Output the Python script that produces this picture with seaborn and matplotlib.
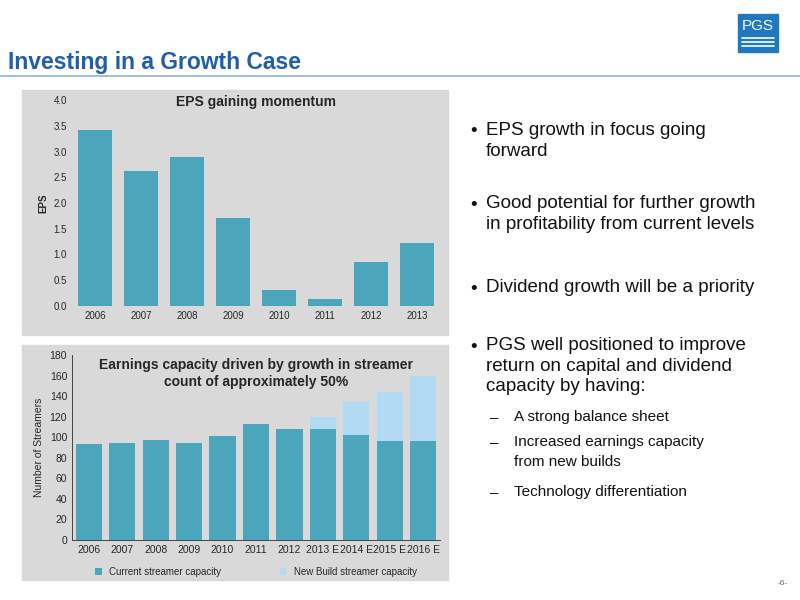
import matplotlib
matplotlib.use("Agg")
import matplotlib.pyplot as plt
import seaborn as sns
import pandas as pd
from matplotlib.patches import Rectangle

sns.set_theme(style="white")
plt.rcParams['font.family'] = ['Liberation Sans', 'DejaVu Sans']

eps_years = ["2006", "2007", "2008", "2009", "2010", "2011", "2012", "2013"]
eps_values = [3.42, 2.62, 2.89, 1.70, 0.32, 0.14, 0.86, 1.22]

str_years = ["2006", "2007", "2008", "2009", "2010", "2011", "2012", "2013 E", "2014 E", "2015 E", "2016 E"]
current_cap = [93, 94, 97, 94, 101, 113, 108, 108, 102, 96, 96]
new_build = [0, 0, 0, 0, 0, 0, 0, 12, 32, 48, 64]

bullets = [
    (0, "EPS growth in focus going\nforward"),
    (0, "Good potential for further growth\nin profitability from current levels"),
    (0, "Dividend growth will be a priority"),
    (0, "PGS well positioned to improve\nreturn on capital and dividend\ncapacity by having:"),
    (1, "A strong balance sheet"),
    (1, "Increased earnings capacity\nfrom new builds"),
    (1, "Technology differentiation"),
]
bullet_y = [132, 205, 289, 347, 418, 443, 493]

W, H = 800, 600
fig = plt.figure(figsize=(8, 6), dpi=100)
fig.patch.set_facecolor("white")

def ax_px(l, t, r, b):
    return fig.add_axes([l / W, 1 - b / H, (r - l) / W, (b - t) / H])

dark = "#4ba6bc"
light = "#b3daf3"
gray = "#d9d9d9"
blue = "#1f5fa8"

fig.text(8 / W, 1 - 62 / H, "Investing in a Growth Case", color=blue, fontsize=16.5,
         fontweight="bold", va="center")
fig.add_artist(plt.Line2D([0, 1], [1 - 76 / H] * 2, color="#8fb3d9", lw=1.2))

fig.add_artist(Rectangle((738 / W, 1 - 52 / H), 40 / W, 38 / H, color="#1f78c0"))
fig.text(758 / W, 1 - 26 / H, "PGS", color="white", fontsize=11, ha="center", va="center")
for i in range(3):
    fig.add_artist(plt.Line2D([742 / W, 774 / W], [1 - (38 + i * 4) / H] * 2, color="white", lw=1.2))

fig.add_artist(Rectangle((22 / W, 1 - 335 / H), 426 / W, 245 / H, color=gray, zorder=0))
fig.add_artist(Rectangle((22 / W, 1 - 580 / H), 426 / W, 235 / H, color=gray, zorder=0))

ax1 = ax_px(72, 100, 440, 306)
df1 = pd.DataFrame({"year": eps_years, "eps": eps_values})
sns.barplot(data=df1, x="year", y="eps", color=dark, saturation=1, width=0.72, ax=ax1, linewidth=0)
ax1.set_facecolor(gray)
ax1.set_ylim(0, 4.0)
ax1.set_yticks([i * 0.5 for i in range(9)])
ax1.set_yticklabels([f"{i*0.5:.1f}" for i in range(9)])
ax1.set_xlabel("")
ax1.set_ylabel("EPS", fontsize=7, fontweight="bold")
ax1.tick_params(labelsize=7, length=0)
for s in ["top", "right", "left", "bottom"]:
    ax1.spines[s].set_visible(False)
ax1.set_title("EPS gaining momentum", fontsize=10, fontweight="bold", y=0.93)

ax2 = ax_px(72, 355, 440, 540)
total = [c + n for c, n in zip(current_cap, new_build)]
df2 = pd.DataFrame({"year": str_years, "current": current_cap, "total": total})
sns.barplot(data=df2, x="year", y="total", color=light, saturation=1, width=0.78, ax=ax2,
            label="New Build streamer capacity", linewidth=0)
sns.barplot(data=df2, x="year", y="current", color=dark, saturation=1, width=0.78, ax=ax2,
            label="Current streamer capacity", linewidth=0)
ax2.set_facecolor(gray)
ax2.set_ylim(0, 180)
ax2.set_yticks(range(0, 181, 20))
ax2.set_xlabel("")
ax2.set_ylabel("Number of Streamers", fontsize=7.5)
ax2.tick_params(labelsize=7.5, length=0)
for s in ["top", "right"]:
    ax2.spines[s].set_visible(False)
for s in ["left", "bottom"]:
    ax2.spines[s].set_color("#444444")
    ax2.spines[s].set_linewidth(0.7)
ax2.text(0.5, 0.985, "Earnings capacity driven by growth in streamer\ncount of approximately 50%",
         transform=ax2.transAxes, ha="center", va="top", fontsize=10, fontweight="bold", linespacing=1.3)
h, l = ax2.get_legend_handles_labels()
ax2.legend(h[::-1], l[::-1], loc="upper center", bbox_to_anchor=(0.5, -0.1), ncol=2, frameon=False,
           fontsize=7, handlelength=0.7, handleheight=0.7, columnspacing=6)

for (lvl, txt), yc in zip(bullets, bullet_y):
    if lvl == 0:
        fig.text(470 / W, 1 - yc / H, "•", fontsize=13.5, va="center", color="#111111")
        fig.text(486 / W, 1 - (yc - 10) / H, txt, fontsize=13.5, va="top", linespacing=1.28, color="#111111")
    else:
        fig.text(490 / W, 1 - yc / H, "–", fontsize=11, va="center", color="#111111")
        fig.text(514 / W, 1 - (yc - 8) / H, txt, fontsize=11, va="top", linespacing=1.5, color="#111111")

fig.text(788 / W, 1 - 585 / H, "-6-", fontsize=6, ha="right", color="#666666")

fig.savefig("out.png", dpi=100)
